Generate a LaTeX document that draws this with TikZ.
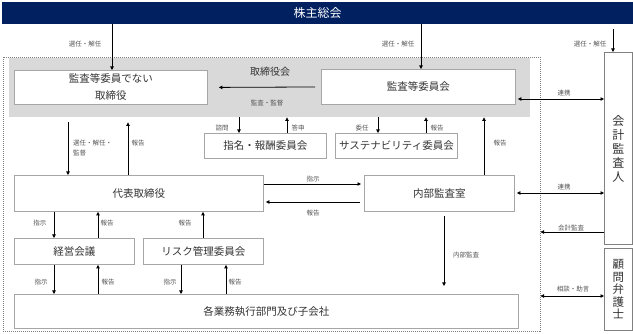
\documentclass[tikz,border=0pt]{standalone}
\usepackage{fontspec}
\setmainfont{Noto Sans CJK JP}
\usetikzlibrary{arrows.meta}
\definecolor{navy}{HTML}{002060}
\definecolor{graybg}{HTML}{D9D9D9}
\definecolor{boxline}{HTML}{A6A6A6}
\definecolor{txt}{HTML}{333333}
\definecolor{lbl}{HTML}{555555}
\begin{document}
\begin{tikzpicture}[x=1pt,y=-1pt,
  box/.style={draw=boxline, line width=0.9pt, fill=white, anchor=north west, inner sep=0pt,
    font=\fontsize{10.5}{17}\selectfont, text=txt, align=center},
  vbox/.style={box, draw=gray, font=\fontsize{12}{14}\selectfont},
  lab/.style={font=\fontsize{6.5}{10}\selectfont, text=lbl, inner sep=0pt},
  arr/.style={-{Triangle[length=3.5pt,width=3.5pt]}, line width=0.8pt},
  darr/.style={{Triangle[length=3.5pt,width=3.5pt]}-{Triangle[length=3.5pt,width=3.5pt]}, line width=0.8pt}]
\useasboundingbox (0,0) rectangle (633,334);

% frames
\node[anchor=north west, fill=navy, minimum width=631pt, minimum height=22pt, inner sep=0pt,
  text=white, font=\fontsize{12}{14}\selectfont] (sh) at (2,2) {株主総会};
\node[draw=gray, dash pattern=on 1pt off 1pt, line width=0.5pt, anchor=north west,
  minimum width=537pt, minimum height=274pt, inner sep=0pt] (outer) at (3,57) {};
\node[fill=graybg, anchor=north west, minimum width=521pt, minimum height=59pt, inner sep=0pt] (bod) at (9,58) {};
\node[font=\fontsize{10}{12}\selectfont, text=txt] (bodl) at (270,72) {取締役会};

% boxes
\node[box, minimum width=193pt, minimum height=34pt] (nd) at (14,70) {監査等委員でない\\取締役};
\node[box, minimum width=194pt, minimum height=35pt] (ac) at (321,69) {監査等委員会};
\node[box, minimum width=122pt, minimum height=25pt] (nc) at (204,133) {指名・報酬委員会};
\node[box, minimum width=122pt, minimum height=25pt] (sc) at (335,133) {サステナビリティ委員会};
\node[box, minimum width=249pt, minimum height=36pt] (ceo) at (14,175) {代表取締役};
\node[box, minimum width=150pt, minimum height=36pt] (ia) at (364,175) {内部監査室};
\node[box, minimum width=120pt, minimum height=26pt] (mm) at (14,238) {経営会議};
\node[box, minimum width=120pt, minimum height=26pt] (rm) at (143,238) {リスク管理委員会};
\node[box, minimum width=504pt, minimum height=34pt] (bu) at (14,294) {各業務執行部門及び子会社};
\node[vbox, minimum width=28pt, minimum height=192pt] (aud) at (604,52) {会\\計\\監\\査\\人};
\node[vbox, minimum width=28pt, minimum height=82pt, font=\fontsize{11.5}{12.5}\selectfont] (law) at (604,248) {顧\\問\\弁\\護\\士};

% x / y reference coordinates
\coordinate (x54) at (54,0);   \coordinate (x68) at (68,0);   \coordinate (x98) at (98,0);
\coordinate (x112) at (112,0); \coordinate (x128) at (128,0); \coordinate (x181) at (181,0);
\coordinate (x203) at (203,0); \coordinate (x226) at (226,0); \coordinate (x239) at (239,0);
\coordinate (x287) at (287,0); \coordinate (x378) at (378,0); \coordinate (x421) at (421,0);
\coordinate (x426) at (426,0); \coordinate (x444) at (444,0); \coordinate (x484) at (484,0);
\coordinate (y99) at (0,99);   \coordinate (y184) at (0,184); \coordinate (y193) at (0,193);
\coordinate (y202) at (0,202); \coordinate (y232) at (0,232); \coordinate (y296) at (0,296);
\coordinate (audin) at (613,29);

% connectors from 株主総会
\draw[arr] (x112 |- sh.south) -- (x112 |- nd.north);
\draw[arr] (x421 |- sh.south) -- (x421 |- ac.north);
\draw[arr] (audin) -- (audin |- aud.north);
\node[lab] (l1) at (85,44) {選任・解任};
\node[lab] (l2) at (398,44) {選任・解任};
\node[lab] (l3) at (590,44) {選任・解任};

% board internal
\draw[arr, shorten <=6pt, shorten >=11pt] (ac.west) -- (nd.east);
\node[lab] (l4) at (267,103) {監査・監督};
\draw[darr, shorten <=2pt] (ac.east |- y99) -- (aud.west |- y99);
\node[lab] (l5) at (564,93) {連携};

% committees
\draw[arr] (x239 |- bod.south) -- (x239 |- nc.north);
\draw[arr] (x287 |- nc.north) -- (x287 |- bod.south);
\draw[arr] (x378 |- bod.south) -- (x378 |- sc.north);
\draw[arr] (x426 |- sc.north) -- (x426 |- bod.south);
\node[lab] (l6) at (222,128) {諮問};
\node[lab] (l7) at (298,128) {答申};
\node[lab] (l8) at (362,128) {委任};
\node[lab] (l9) at (437,128) {報告};

% board <-> 代表取締役
\draw[arr, shorten <=5pt] (x68 |- bod.south) -- (x68 |- ceo.north);
\draw[arr, shorten >=5pt] (x128 |- ceo.north) -- (x128 |- bod.south);
\node[lab, anchor=west, align=left] (l10) at (73,148) {選任・解任・\\監督};
\node[lab] (l11) at (138,143) {報告};

% 内部監査室
\draw[arr] (x484 |- ia.north) -- (x484 |- bod.south);
\node[lab] (l12) at (500,143) {報告};
\draw[arr, shorten >=3pt] (ceo.east |- y184) -- (ia.west |- y184);
\node[lab] (l13) at (313,179) {指示};
\draw[arr, shorten <=4pt, shorten >=2pt] (ia.west |- y202) -- (ceo.east |- y202);
\node[lab] (l14) at (313,213) {報告};
\draw[darr, shorten <=2pt] (ia.east |- y193) -- (aud.west |- y193);
\node[lab] (l15) at (564,187) {連携};
\draw[arr] (aud.west |- y232) -- (outer.east |- y232);
\node[lab] (l16) at (571,228) {会計監査};
\draw[arr, shorten <=4pt, shorten >=8pt] (x444 |- ia.south) -- (x444 |- bu.north);
\node[lab] (l17) at (466,255) {内部監査};
\draw[darr] (outer.east |- y296) -- (law.west |- y296);
\node[lab] (l18) at (573,289) {相談・助言};

% 代表取締役 <-> 経営会議 / リスク管理委員会
\draw[arr] (x54 |- ceo.south) -- (x54 |- mm.north);
\draw[arr] (x98 |- mm.north) -- (x98 |- ceo.south);
\draw[arr] (x203 |- rm.north) -- (x203 |- ceo.south);
\node[lab] (l19) at (40,223) {指示};
\node[lab] (l20) at (107,223) {報告};
\node[lab] (l21) at (185,223) {報告};

% to 各業務執行部門
\draw[arr] (x54 |- mm.south) -- (x54 |- bu.north);
\draw[arr] (x98 |- bu.north) -- (x98 |- mm.south);
\draw[arr] (x181 |- rm.south) -- (x181 |- bu.north);
\draw[arr] (x226 |- bu.north) -- (x226 |- rm.south);
\node[lab] (l22) at (41,282) {指示};
\node[lab] (l23) at (108,282) {報告};
\node[lab] (l24) at (170,282) {指示};
\node[lab] (l25) at (235,282) {報告};
\end{tikzpicture}
\end{document}
